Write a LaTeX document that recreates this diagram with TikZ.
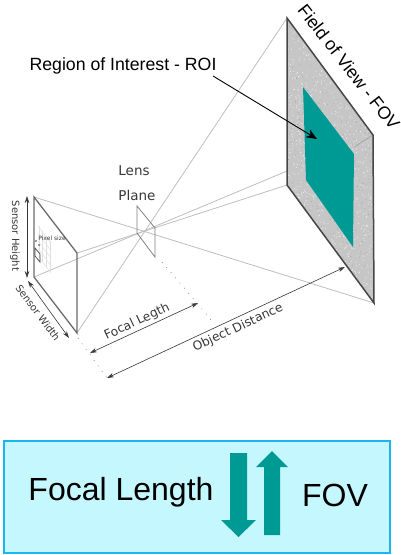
\documentclass[tikz,border=0pt]{standalone}
\usepackage{fontspec}
\usepackage{xcolor}
\setmainfont{Liberation Sans}
\newfontfamily\dejavu{DejaVu Sans}
\usetikzlibrary{arrows.meta, positioning, calc}
\definecolor{roicolor}{RGB}{0, 154, 149}
\definecolor{planecolor}{RGB}{198, 198, 198}
\definecolor{boxcolor}{RGB}{197, 247, 255}
\definecolor{boxborder}{RGB}{29, 181, 238}
\definecolor{raycolor}{RGB}{190, 190, 190}
\definecolor{edgecolor}{RGB}{70, 70, 70}
\definecolor{labelcolor}{RGB}{55, 55, 55}

\begin{document}
\begin{tikzpicture}[
    x=1pt, y=-1pt,
    raystyle/.style={draw=raycolor, line width=0.8pt},
    edgestyle/.style={draw=edgecolor, line width=1.3pt},
    dimarrow/.style={draw=labelcolor, line width=0.6pt, {Stealth[length=7pt,width=4.5pt]}-{Stealth[length=7pt,width=4.5pt]}},
    dotline/.style={draw=gray, line width=0.7pt, dash pattern=on 0.8pt off 6pt},
    sidelabel/.style={font=\dejavu\fontsize{10}{12}\selectfont, text=labelcolor, inner sep=0pt},
    dimlabel/.style={font=\dejavu\fontsize{12.3}{14}\selectfont, text=labelcolor, inner sep=0pt},
    lenslabel/.style={font=\dejavu\fontsize{13.5}{16}\selectfont, text=labelcolor, inner sep=0pt},
    toplabel/.style={font=\fontsize{17.7}{20}\selectfont, text=black, inner sep=0pt},
    biglabel/.style={font=\fontsize{32}{36}\selectfont, text=black, inner sep=0pt},
    blockarrow/.style={draw=none, fill=roicolor}
]
\useasboundingbox (0,0) rectangle (401,555);

% field of view
\coordinate (fovA) at (287,18);
\coordinate (fovB) at (373,135);
\coordinate (fovC) at (374,303);
\coordinate (fovD) at (287,185);
% sensor
\coordinate (senA) at (34,197);
\coordinate (senB) at (77,253);
\coordinate (senC) at (77,333);
\coordinate (senD) at (34,277);
% lens
\coordinate (lensA) at (137,206);
\coordinate (lensB) at (155,228);
\coordinate (lensC) at (155,257);
\coordinate (lensD) at (137,233);

\draw[raystyle] (senA) -- (fovC);
\draw[raystyle] (senC) -- (fovA);
\draw[raystyle] (senD) -- (fovB);
\draw[raystyle] (senB) -- (fovD);
\draw[raystyle, draw=gray] (lensA) -- (lensB) -- (lensC) -- (lensD) -- cycle;

\fill[planecolor] (fovA) -- (fovB) -- (fovC) -- (fovD) -- cycle;
\begin{scope}
\clip (fovA) -- (fovB) -- (fovC) -- (fovD) -- cycle;
\pgfmathsetseed{7}
\foreach \i in {1,...,1300} {
    \fill[white, opacity=0.6] ({287+rnd*87},{18+rnd*285}) circle (0.6pt);
}
\foreach \i in {1,...,500} {
    \fill[gray, opacity=0.45] ({287+rnd*87},{18+rnd*285}) circle (0.5pt);
}
\end{scope}
\draw[raystyle, draw=gray!70] (fovB) -- (354,147);
\draw[edgestyle, line width=1.5pt] (fovD) -- (fovA) -- (fovB) -- (fovC) -- cycle;

% region of interest
\fill[roicolor] (303,87) -- (354,154) -- (353,247) -- (306,180) -- cycle;
\node[toplabel] (roilabel) at (123,66) {Region of Interest - ROI};
\coordinate (roitail) at (213,76);
\coordinate (roitip) at (317,139);
\draw[line width=0.9pt, -{Stealth[length=11pt,width=9pt]}] (roitail) -- (roitip);
\node[toplabel, rotate=-52] (fovlabel) at (349,67) {Field of View - FOV};

% sensor plane
\draw[edgestyle, draw=edgecolor!80] (senD) -- (senA) -- (senB) -- (senC) -- cycle;
\foreach \i in {0,1,2,3} {
    \draw[draw=raycolor!50, line width=0.5pt] ({39+\i*3.7},{226+\i*5}) -- ({39+\i*3.7},{257+\i*5});
}
\foreach \i in {0,1,2,3,4} {
    \draw[draw=raycolor!50, line width=0.5pt] (38,{226+\i*7.5}) -- (51,{243+\i*7.5});
}
\draw[draw=edgecolor, line width=0.7pt] (35,248) -- (40,254) -- (40,262) -- (35,256) -- cycle;
\fill[labelcolor] (36,241) circle (0.8pt);
\fill[labelcolor] (39,245) circle (0.8pt);
\node[font=\dejavu\fontsize{6}{7}\selectfont, text=labelcolor, inner sep=0pt] (pixellabel) at (52,238) {Pixel size};

% lens label
\node[lenslabel] (lenstext) at (134,171) {Lens};
\node[lenslabel] (planetext) at (137,195) {Plane};

% dimensions
\coordinate (hTop) at (27,196);
\coordinate (hBot) at (27,278);
\coordinate (wTop) at (28,281);
\coordinate (wBot) at (69,338);
\coordinate (fLeft) at (90,353);
\coordinate (fRight) at (198,303);
\coordinate (oLeft) at (107,378);
\coordinate (oRight) at (345,267);
\coordinate (dotA) at (78,338);
\coordinate (dotB) at (162,262);
\coordinate (dotC) at (213,322);
\draw[dimarrow] (hTop) -- (hBot);
\draw[dimarrow] (wTop) -- (wBot);
\draw[dimarrow] (fLeft) -- (fRight);
\draw[dimarrow] (oLeft) -- (oRight);
\draw[dotline] (dotA) -- (oLeft);
\draw[dotline] (dotB) -- (dotC);
\node[sidelabel, rotate=-90] (heightlabel) at (15,236) {Sensor Height};
\node[sidelabel, rotate=-53] (widthlabel) at (38,313) {Sensor Width};
\node[dimlabel, rotate=25] (focallabel) at (137,322) {Focal Legth};
\node[dimlabel, rotate=25] (objectlabel) at (238,328) {Object Distance};

% bottom panel
\node[draw=boxborder, fill=boxcolor, line width=1.4pt, minimum width=386pt, minimum height=112pt, inner sep=0pt] (panel) at (197,497) {};
\node[biglabel] (focalbig) at (121,492) {Focal Length};
\node[biglabel] (fovbig) at (335,495) {FOV};
\fill[blockarrow] (230,453) -- (247,453) -- (247,520) -- (256,520) -- (238.5,537) -- (221,520) -- (230,520) -- cycle;
\fill[blockarrow] (264,535) -- (280,535) -- (280,467) -- (288,467) -- (272,451) -- (256,467) -- (264,467) -- cycle;

\end{tikzpicture}
\end{document}
